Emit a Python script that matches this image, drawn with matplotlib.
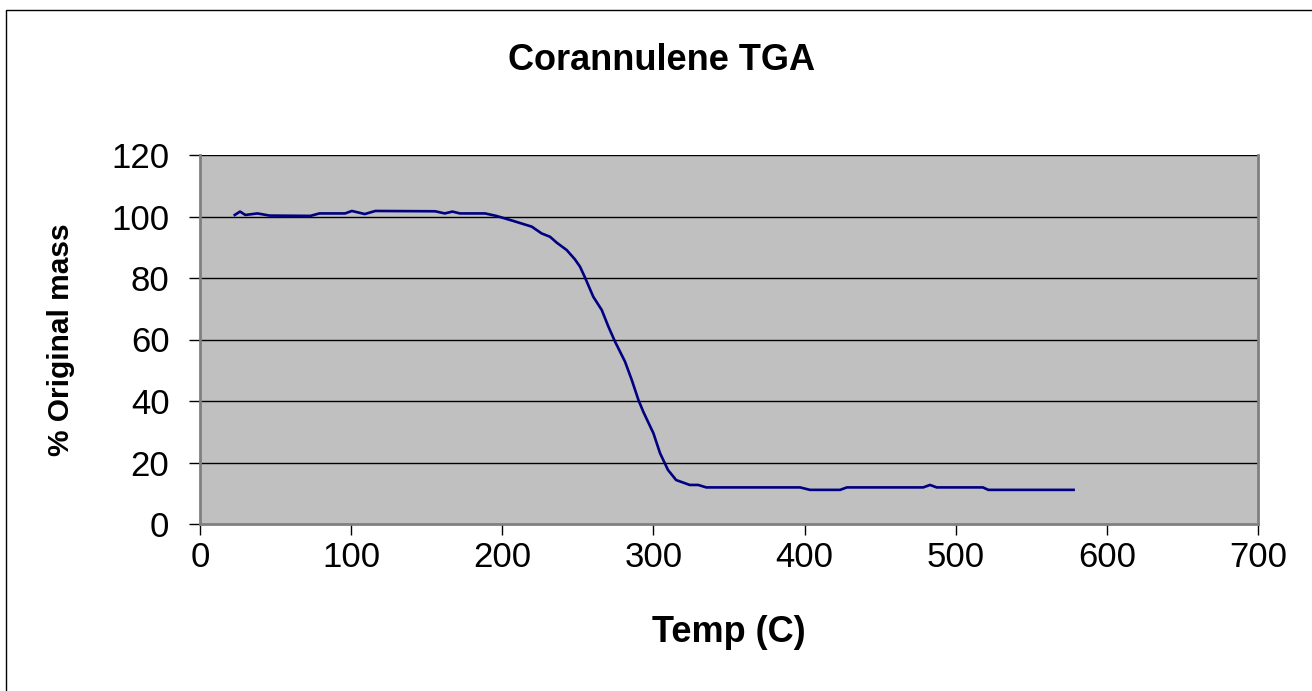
import numpy as np
from matplotlib import pyplot as plt
import matplotlib.patches as patches

plt.rcParams['font.family'] = ['Liberation Sans', 'DejaVu Sans']

temp = [23, 26.5, 30, 38, 46, 73, 79, 96, 100.5, 109, 116, 155.5, 162, 167,
        172, 188.6, 196, 207, 219.5, 226, 231.6, 236, 242.6, 248, 251.4,
        254.7, 260.2, 265.8, 270.2, 274.6, 281.2, 285.7, 290.1, 293.3, 300,
        304.4, 309.6, 315, 324, 329.6, 335, 397, 403.6, 423.5, 428, 478.5,
        483, 487.4, 518, 521.6, 578]
mass = [100.5, 101.6, 100.5, 101, 100.3, 100.2, 101, 101, 101.8, 100.8, 101.8,
        101.7, 101, 101.6, 101, 101, 100.2, 98.6, 96.7, 94.5, 93.4, 91.5,
        89.1, 86.1, 83.7, 80.2, 73.9, 69.6, 64.2, 59.3, 52.8, 46.8, 40.3,
        36.5, 29.5, 23, 17.6, 14.3, 12.7, 12.7, 11.9, 11.9, 11.1, 11.1, 11.9,
        11.9, 12.7, 11.9, 11.9, 11.1, 11.1]

xticks = [0, 100, 200, 300, 400, 500, 600, 700]
yticks = [0, 20, 40, 60, 80, 100, 120]

fig = plt.figure(figsize=(13.12, 6.91), dpi=100)
ax = fig.add_axes([200/1312, 1 - 524/691, 1058/1312, 369/691])
ax.set_facecolor('#C0C0C0')

for yv in yticks[1:]:
    ax.axhline(yv, color='black', lw=1.0, zorder=1)

ax.plot(temp, mass, color='#000080', lw=1.9, zorder=3)

ax.set_xlim(0, 700)
ax.set_ylim(0, 120)
ax.set_xticks(xticks)
ax.set_yticks(yticks)
ax.tick_params(axis='both', direction='out', length=8, width=1,
               color='black', labelsize=25)
ax.tick_params(axis='x', pad=4)
ax.tick_params(axis='y', pad=14)

for s in ['left', 'bottom', 'right']:
    ax.spines[s].set_color('#808080')
    ax.spines[s].set_linewidth(2)
ax.spines['top'].set_visible(False)

ax.set_xlabel('Temp (C)', fontsize=26, fontweight='bold', labelpad=30)
ax.set_ylabel('% Original mass', fontsize=21.5, fontweight='bold', labelpad=26)
fig.text(662/1312, 1 - 60/691, 'Corannulene TGA', fontsize=26,
         fontweight='bold', ha='center', va='center')

border = patches.Rectangle((6/1312, -0.1), 1.2, 1 - 10/691 + 0.1,
                           transform=fig.transFigure, fill=False,
                           edgecolor='black', lw=1.0)
fig.patches.append(border)

fig.savefig('out.png', dpi=100)
